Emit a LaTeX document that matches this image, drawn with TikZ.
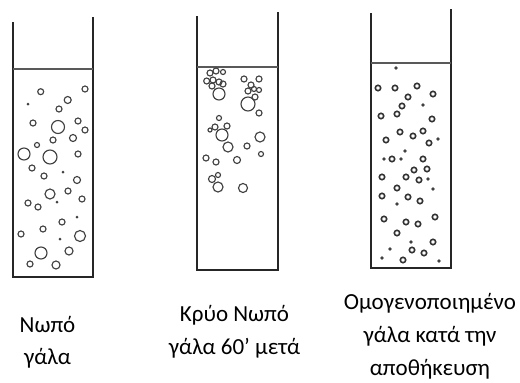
\documentclass[tikz,border=0pt]{standalone}
\usepackage{fontspec}
\setmainfont{Carlito}
\begin{document}
\begin{tikzpicture}[x=1pt,y=-1pt,
  wall/.style={draw=black!85,line width=1.9pt,line join=miter},
  surface/.style={draw=black!65,line width=1.2pt},
  bubble/.style={draw=black!75,line width=1.15pt},
  ring/.style={draw=black!80,line width=1.6pt},
  speck/.style={fill=black!75,draw=none},
  caption/.style={anchor=base,inner sep=0pt,font=\fontsize{23}{32}\selectfont,text=black}]
\useasboundingbox (0,0) rectangle (520,383);

% ---- tube 1: fresh milk ----
\draw[wall] (13,22) -- (13,277) -- (93,277) -- (93,17);
\draw[surface] (13,69) -- (93,69);
\foreach \x/\y/\r in {40.7/91.7/3, 85/89/3, 67.7/100/3.5, 59/109/3, 33/123/3,
  58/127/6.5, 78/121/3, 85/130/3, 73/138/3.5, 53/140/3, 37/145/2.5,
  24/154/6, 50/157/7, 78/154/3, 32/168/3, 44/176/3, 77/180/3.5,
  50/194/5, 68/191/3, 82/199/3, 28/203/3, 38/207/3, 62/222/3,
  43/229/3, 21/234/3, 80/236/5.5, 41/253/6, 69/251/4, 30/264/3, 56/265/4}
  \draw[bubble] (\x,\y) circle (\r);
\foreach \x/\y in {28/104, 63/172, 57/202, 77/217, 60/239}
  \fill[speck] (\x,\y) circle (1.5);

% ---- tube 2: cold fresh milk after 60 min ----
\draw[wall] (197,16) -- (197,270) -- (278,270) -- (278,12);
\draw[surface] (197,67) -- (278,67);
\foreach \x/\y/\r in {206.7/81/3, 210/73/3, 216/71/3, 223/72/2.5, 213/80/3,
  219/82/3, 223/84/3, 212/86/3, 219/94/6,
  244/79/3, 259/79/3, 251/85/3, 248/91/3, 254/89/2.5, 259/90/2.5,
  255/97/3, 248/104/7, 259/113/3,
  219/118/2.5, 227/126/3, 215/127/3, 210/130/2, 222/135/6, 228/147/5,
  247/146/3, 260/137/5, 261/154/2.5,
  206/158/3, 216/162/3, 237/160/3.5,
  212/179/3.5, 218/175/2.5, 218/187/5, 243/188/4.5}
  \draw[bubble] (\x,\y) circle (\r);

% ---- tube 3: homogenised milk in storage ----
\draw[wall] (371,13) -- (371,268) -- (451,268) -- (451,9);
\draw[surface] (371,63) -- (451,63);
\foreach \x/\y in {378/88, 395/88, 417/86, 408/97, 433/94, 402/106,
  381/116, 397/114, 432/119, 400/132, 413/136, 423/131, 429/143,
  386/140, 392/159, 423/159, 414/170, 427/169, 382/177, 406/177,
  419/180, 397/188, 382/196, 408/197, 420/201, 384/219, 406/222,
  418/224, 435/217, 397/233, 433/242, 412/250, 424/253, 403/260}
  \draw[ring] (\x,\y) circle (2.7);
\foreach \x/\y in {396/68, 423/105, 438/139, 405/151, 384/159, 401/159,
  428/179, 433/189, 397/204, 411/242, 390/249, 382/258, 439/261}
  \fill[speck] (\x,\y) circle (1.9);

% ---- captions, one node per line, placed on their baselines ----
\node[caption] (c1a) at (47.5,332) {Νωπό};
\node[caption] (c1b) at (47.5,364) {γάλα};
\node[caption] (c2a) at (234.5,321) {Κρύο Νωπό};
\node[caption] (c2b) at (234.5,354) {γάλα 60’ μετά};
\node[caption] (c3a) at (430,309) {Ομογενοποιημένο};
\node[caption] (c3b) at (430,342) {γάλα κατά την};
\node[caption] (c3c) at (430,375) {αποθήκευση};
\end{tikzpicture}
\end{document}
